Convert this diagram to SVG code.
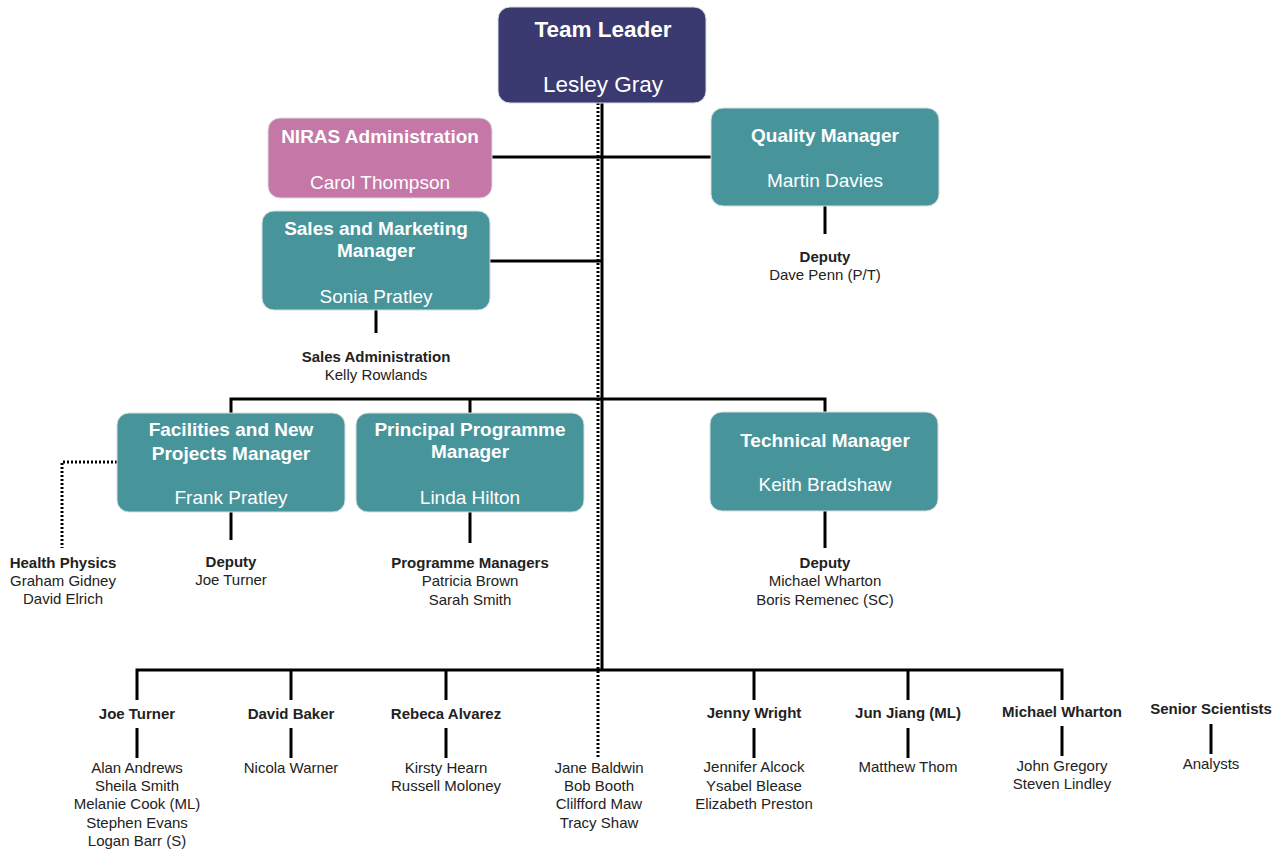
<svg xmlns="http://www.w3.org/2000/svg" width="1285" height="852" viewBox="0 0 1285 852">
<style>
.box{stroke:#d8dde0;stroke-width:1}
.teal{fill:#48949b}
.pink{fill:#c577a7}
.navy{fill:#3a3a70}
.bt{font-family:"Liberation Sans",Arial,sans-serif;font-size:19px;fill:#fff;text-anchor:middle}
.big{font-size:22.5px}
.b{font-weight:bold}
.st{font-family:"Liberation Sans",Arial,sans-serif;font-size:15px;fill:#222;text-anchor:middle}
.ln{stroke:#000;stroke-width:3;fill:none}
.dt{stroke:#000;stroke-width:3;fill:none;stroke-dasharray:2 2}
</style>
<rect width="1285" height="852" fill="#fff"/>
<g id="connectors">
<path class="dt" d="M598 103V757"/>
<path class="ln" d="M602 103V670"/>
<path class="ln" d="M492 157H711"/>
<path class="ln" d="M490 261H602"/>
<path class="ln" d="M825 206V234"/>
<path class="ln" d="M376 310V333"/>
<path class="ln" d="M231 413V399H825V412"/>
<path class="ln" d="M470 399V413"/>
<path class="dt" d="M117 462H62V548"/>
<path class="ln" d="M231 512V540"/>
<path class="ln" d="M470 512V543"/>
<path class="ln" d="M825 511V548"/>
<path class="ln" d="M137 700V670H1062V700"/>
<path class="ln" d="M291 670V700M446 670V700M754 670V700M908 670V700"/>
<path class="ln" d="M137 728V758M291 728V758M446 728V758M754 728V758M908 728V758M1062 726V756M1211 724V754"/>
</g>
<g id="team-leader">
<rect class="box navy" x="498" y="7" width="208" height="96" rx="12"/>
<text class="bt big b" x="603" y="37">Team Leader</text>
<text class="bt big" x="603" y="92">Lesley Gray</text>
</g>
<g id="niras">
<rect class="box pink" x="268" y="118" width="224" height="80" rx="12"/>
<text class="bt b" x="380" y="143">NIRAS Administration</text>
<text class="bt" x="380" y="189">Carol Thompson</text>
</g>
<g id="quality">
<rect class="box teal" x="711" y="108" width="228" height="98" rx="12"/>
<text class="bt b" x="825" y="142">Quality Manager</text>
<text class="bt" x="825" y="187">Martin Davies</text>
</g>
<g id="quality-deputy">
<text class="st b" x="825" y="262">Deputy</text>
<text class="st" x="825" y="280">Dave Penn (P/T)</text>
</g>
<g id="sales">
<rect class="box teal" x="262" y="211" width="228" height="99" rx="12"/>
<text class="bt b" x="376" y="235">Sales and Marketing</text>
<text class="bt b" x="376" y="257">Manager</text>
<text class="bt" x="376" y="303">Sonia Pratley</text>
</g>
<g id="sales-admin">
<text class="st b" x="376" y="362">Sales Administration</text>
<text class="st" x="376" y="380">Kelly Rowlands</text>
</g>
<g id="facilities">
<rect class="box teal" x="117" y="413" width="228" height="99" rx="12"/>
<text class="bt b" x="231" y="436">Facilities and New</text>
<text class="bt b" x="231" y="460">Projects Manager</text>
<text class="bt" x="231" y="504">Frank Pratley</text>
</g>
<g id="principal">
<rect class="box teal" x="356" y="413" width="228" height="99" rx="12"/>
<text class="bt b" x="470" y="436">Principal Programme</text>
<text class="bt b" x="470" y="458">Manager</text>
<text class="bt" x="470" y="504">Linda Hilton</text>
</g>
<g id="technical">
<rect class="box teal" x="710" y="412" width="228" height="99" rx="12"/>
<text class="bt b" x="825" y="447">Technical Manager</text>
<text class="bt" x="825" y="491">Keith Bradshaw</text>
</g>
<g id="health-physics">
<text class="st b" x="63" y="568">Health Physics</text>
<text class="st" x="63" y="586">Graham Gidney</text>
<text class="st" x="63" y="604">David Elrich</text>
</g>
<g id="facilities-deputy">
<text class="st b" x="231" y="567">Deputy</text>
<text class="st" x="231" y="585">Joe Turner</text>
</g>
<g id="programme-managers">
<text class="st b" x="470" y="568">Programme Managers</text>
<text class="st" x="470" y="586">Patricia Brown</text>
<text class="st" x="470" y="605">Sarah Smith</text>
</g>
<g id="technical-deputy">
<text class="st b" x="825" y="568">Deputy</text>
<text class="st" x="825" y="586">Michael Wharton</text>
<text class="st" x="825" y="605">Boris Remenec (SC)</text>
</g>
<g id="joe-turner">
<text class="st b" x="137" y="719">Joe Turner</text>
<text class="st" x="137" y="773">Alan Andrews</text>
<text class="st" x="137" y="791">Sheila Smith</text>
<text class="st" x="137" y="809">Melanie Cook (ML)</text>
<text class="st" x="137" y="828">Stephen Evans</text>
<text class="st" x="137" y="846">Logan Barr (S)</text>
</g>
<g id="david-baker">
<text class="st b" x="291" y="719">David Baker</text>
<text class="st" x="291" y="773">Nicola Warner</text>
</g>
<g id="rebeca-alvarez">
<text class="st b" x="446" y="719">Rebeca Alvarez</text>
<text class="st" x="446" y="773">Kirsty Hearn</text>
<text class="st" x="446" y="791">Russell Moloney</text>
</g>
<g id="dotted-group">
<text class="st" x="599" y="773">Jane Baldwin</text>
<text class="st" x="599" y="791">Bob Booth</text>
<text class="st" x="599" y="809">Clilfford Maw</text>
<text class="st" x="599" y="828">Tracy Shaw</text>
</g>
<g id="jenny-wright">
<text class="st b" x="754" y="718">Jenny Wright</text>
<text class="st" x="754" y="772">Jennifer Alcock</text>
<text class="st" x="754" y="791">Ysabel Blease</text>
<text class="st" x="754" y="809">Elizabeth Preston</text>
</g>
<g id="jun-jiang">
<text class="st b" x="908" y="718">Jun Jiang (ML)</text>
<text class="st" x="908" y="772">Matthew Thom</text>
</g>
<g id="michael-wharton">
<text class="st b" x="1062" y="717">Michael Wharton</text>
<text class="st" x="1062" y="771">John Gregory</text>
<text class="st" x="1062" y="789">Steven Lindley</text>
</g>
<g id="senior-scientists">
<text class="st b" x="1211" y="714">Senior Scientists</text>
<text class="st" x="1211" y="769">Analysts</text>
</g>
</svg>
